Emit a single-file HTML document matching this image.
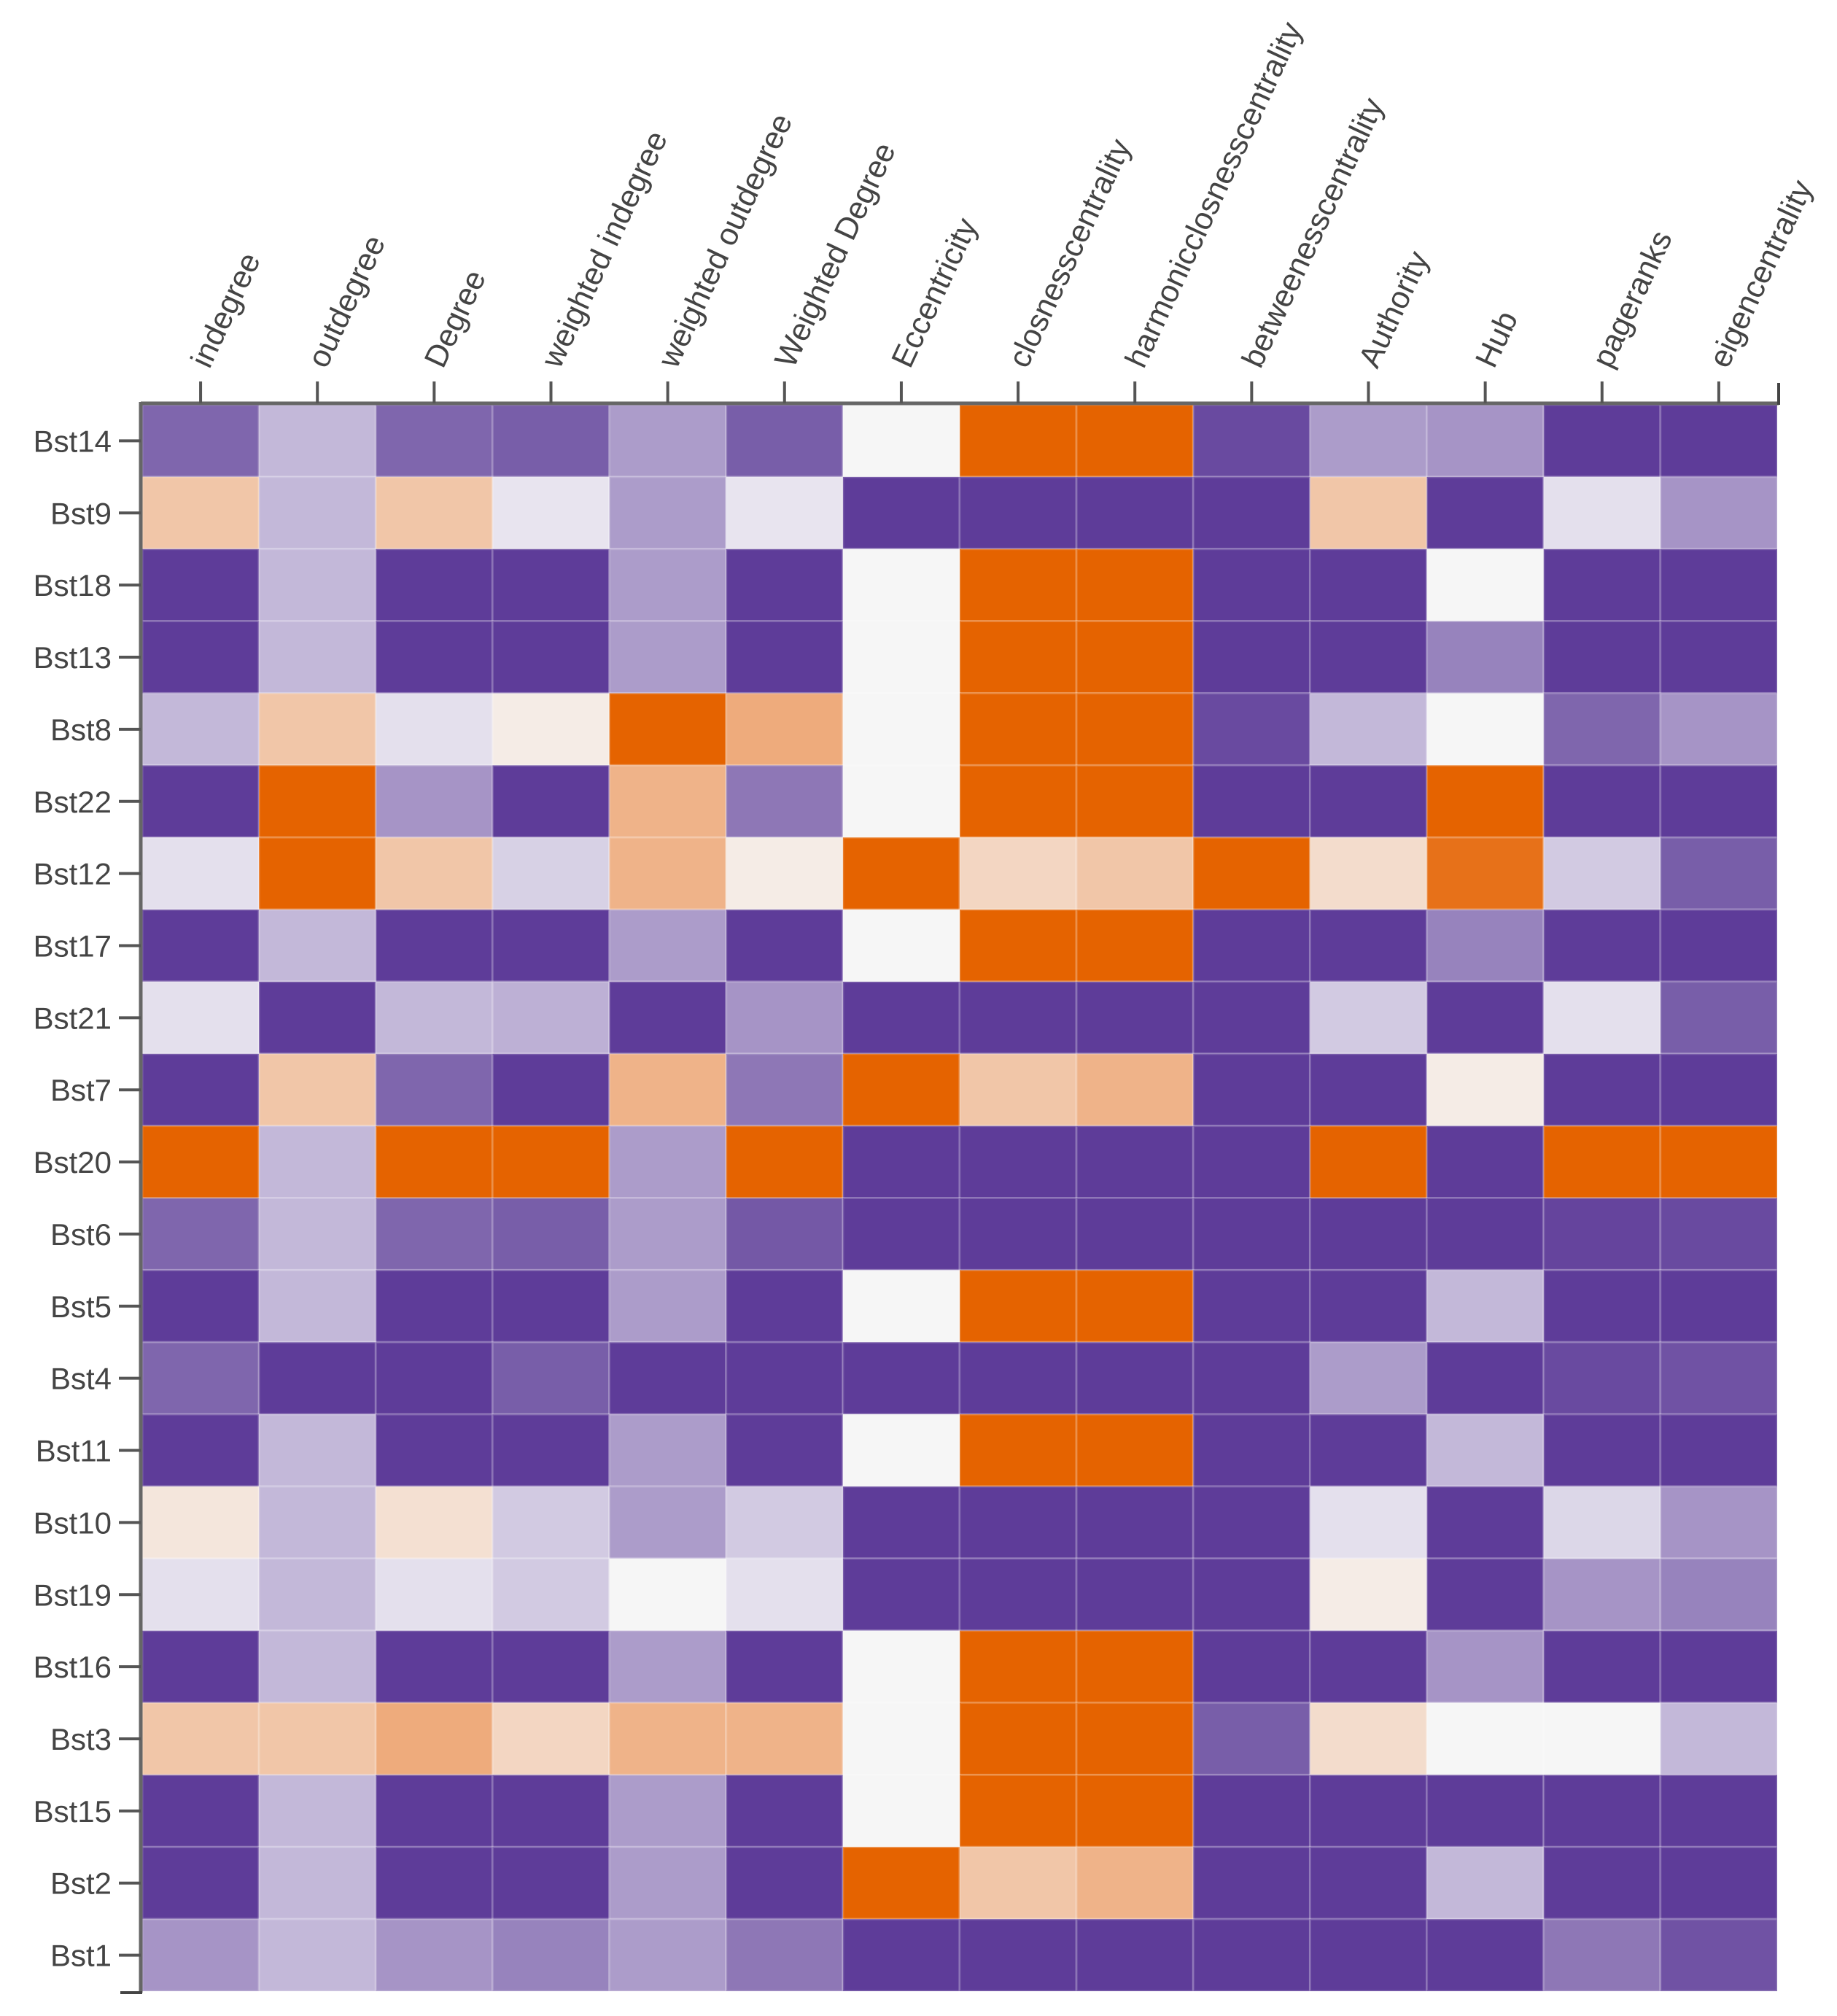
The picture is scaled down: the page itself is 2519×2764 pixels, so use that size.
<!DOCTYPE html>
<html><head><meta charset="utf-8"><style>
html,body{margin:0;padding:0;background:#fff;}
svg{display:block;}
text{font-family:"Liberation Sans",Arial,sans-serif;fill:#444;}
</style></head><body>
<svg id="chart" width="2519" height="2764" viewBox="0 0 2519 2764" xmlns="http://www.w3.org/2000/svg">
<g id="cells"></g>
<g id="xaxis"></g>
<g id="yaxis"></g>
</svg>
<script>
const columns = ["indegree","outdegree","Degree","weighted indegree","weighted outdegree","Weighted Degree","Eccentricity","closnesscentrality","harmonicclosnesscentrality","betweenesscentrality","Authority","Hub","pageranks","eigencentrality"];
const rows = ["Bst14","Bst9","Bst18","Bst13","Bst8","Bst22","Bst12","Bst17","Bst21","Bst7","Bst20","Bst6","Bst5","Bst4","Bst11","Bst10","Bst19","Bst16","Bst3","Bst15","Bst2","Bst1"];
const values = [
[0.85,0.68,0.85,0.88,0.75,0.88,0.5,0,0,0.95,0.75,0.77,1,1],
[0.35,0.68,0.35,0.54,0.75,0.54,1,1,1,1,0.35,1,0.55,0.77],
[1,0.68,1,1,0.75,1,0.5,0,0,1,1,0.5,1,1],
[1,0.68,1,1,0.75,1,0.5,0,0,1,1,0.8,1,1],
[0.68,0.35,0.55,0.47,0,0.25,0.5,0,0,0.95,0.68,0.5,0.85,0.77],
[1,0,0.77,1,0.28,0.82,0.5,0,0,1,1,0,1,1],
[0.55,0,0.35,0.6,0.28,0.47,0,0.4,0.35,0,0.42,0.05,0.62,0.88],
[1,0.68,1,1,0.75,1,0.5,0,0,1,1,0.8,1,1],
[0.55,1,0.68,0.7,1,0.77,1,1,1,1,0.62,1,0.55,0.88],
[1,0.35,0.85,1,0.28,0.82,0,0.35,0.28,1,1,0.47,1,1],
[0,0.68,0,0,0.75,0,1,1,1,1,0,1,0,0],
[0.85,0.68,0.85,0.88,0.75,0.9,1,1,1,1,1,1,0.97,0.95],
[1,0.68,1,1,0.75,1,0.5,0,0,1,1,0.68,1,1],
[0.85,1,1,0.88,1,1,1,1,1,1,0.75,1,0.95,0.92],
[1,0.68,1,1,0.75,1,0.5,0,0,1,1,0.68,1,1],
[0.45,0.68,0.43,0.62,0.75,0.62,1,1,1,1,0.55,1,0.58,0.77],
[0.55,0.68,0.55,0.62,0.5,0.55,1,1,1,1,0.47,1,0.77,0.8],
[1,0.68,1,1,0.75,1,0.5,0,0,1,1,0.77,1,1],
[0.35,0.35,0.25,0.4,0.28,0.28,0.5,0,0,0.88,0.42,0.5,0.5,0.68],
[1,0.68,1,1,0.75,1,0.5,0,0,1,1,1,1,1],
[1,0.68,1,1,0.75,1,0,0.35,0.28,1,1,0.68,1,1],
[0.77,0.68,0.77,0.8,0.75,0.82,1,1,1,1,1,1,0.82,0.92]
];
const stops=[[0,[229,99,0]],[0.25,[238,171,124]],[0.35,[241,198,168]],[0.5,[246,246,246]],[0.55,[228,224,237]],[0.68,[195,184,217]],[0.77,[166,148,198]],[0.85,[127,102,173]],[1,[94,60,153]]];
function color(v){
  for(let i=1;i<stops.length;i++){
    if(v<=stops[i][0]){
      const a=stops[i-1],b=stops[i],t=(v-a[0])/(b[0]-a[0]);
      const c=a[1].map((x,k)=>Math.round(x+(b[1][k]-x)*t));
      return `rgb(${c.join(',')})`;
    }
  }
  return 'rgb(94,60,153)';
}
const L=195,T=555,R=2437,B=2730;
const cw=(R-L)/columns.length, ch=(B-T)/rows.length;
const xPos=i=>L+i*cw, yPos=j=>T+j*ch;
const NS="http://www.w3.org/2000/svg";
function mk(tag,attrs,parent){const e=document.createElementNS(NS,tag);for(const k in attrs)e.setAttribute(k,attrs[k]);parent.appendChild(e);return e;}
const cells=document.getElementById('cells');
rows.forEach((r,j)=>columns.forEach((c,i)=>{
  const e=mk('rect',{x:xPos(i),y:yPos(j),width:cw,height:ch,fill:color(values[j][i]),stroke:'rgba(255,255,255,0.18)','stroke-width':3},cells);
  
  
}));
const xa=document.getElementById('xaxis'), ya=document.getElementById('yaxis');
const topAxis=mk('line',{x1:L-2,y1:T-2,x2:R+2,y2:T-2,stroke:'#666','stroke-width':5},xa);


const leftAxis=mk('line',{x1:L-2,y1:T-4,x2:L-2,y2:B+2,stroke:'#666','stroke-width':5},ya);


mk('line',{x1:R+2,y1:T-30,x2:R+2,y2:T,stroke:'#444','stroke-width':4},xa);
mk('line',{x1:L-30,y1:B+2,x2:L,y2:B+2,stroke:'#444','stroke-width':4},ya);
columns.forEach((c,i)=>{
  const cx=xPos(i)+cw/2;
  const t=mk('line',{x1:cx,y1:T-32,x2:cx,y2:T-2,stroke:'#555','stroke-width':4},xa);
  
  
  const tx=mk('text',{x:0,y:0,'font-size':43,transform:`translate(${cx+12},${T-48}) rotate(-65)`},xa);
  tx.textContent=c;
  
  
});
rows.forEach((r,j)=>{
  const cy=yPos(j)+ch/2;
  const t=mk('line',{x1:L-32,y1:cy,x2:L-2,y2:cy,stroke:'#555','stroke-width':4},ya);
  
  
  const tx=mk('text',{x:L-42,y:cy+15,'font-size':42,'text-anchor':'end'},ya);
  tx.textContent=r;
  
  
});
</script>
</body></html>
